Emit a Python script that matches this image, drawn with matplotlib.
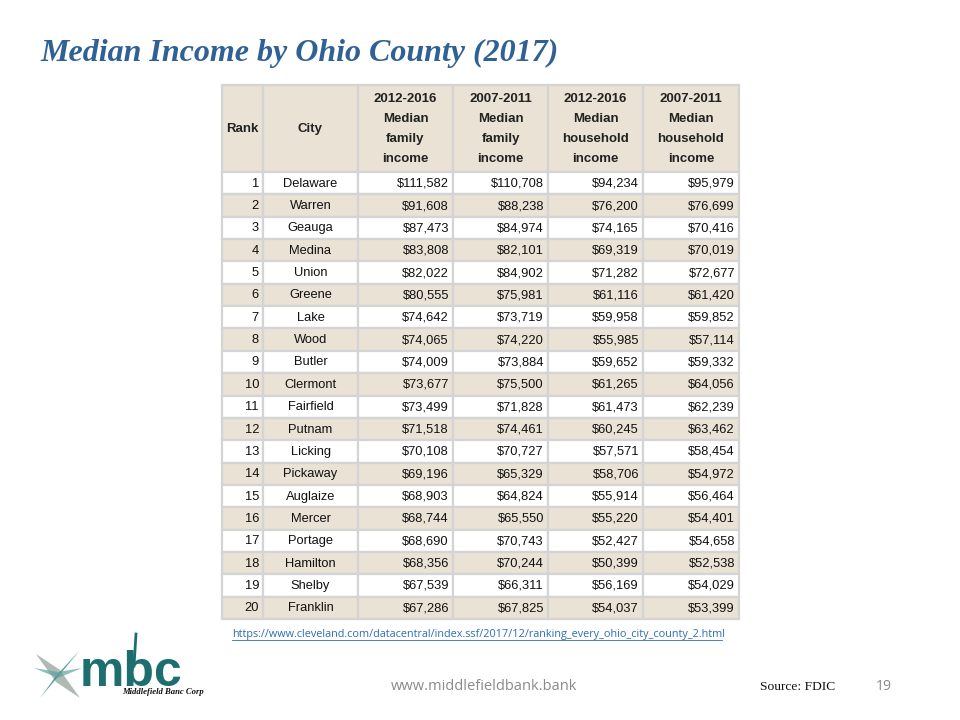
import matplotlib.pyplot as plt
from matplotlib.patches import Rectangle, Polygon

# table data
ranks = list(range(1, 21))
cities = ["Delaware", "Warren", "Geauga", "Medina", "Union", "Greene", "Lake", "Wood",
          "Butler", "Clermont", "Fairfield", "Putnam", "Licking", "Pickaway", "Auglaize",
          "Mercer", "Portage", "Hamilton", "Shelby", "Franklin"]
family_2012_2016 = [111582, 91608, 87473, 83808, 82022, 80555, 74642, 74065, 74009, 73677,
                    73499, 71518, 70108, 69196, 68903, 68744, 68690, 68356, 67539, 67286]
family_2007_2011 = [110708, 88238, 84974, 82101, 84902, 75981, 73719, 74220, 73884, 75500,
                    71828, 74461, 70727, 65329, 64824, 65550, 70743, 70244, 66311, 67825]
household_2012_2016 = [94234, 76200, 74165, 69319, 71282, 61116, 59958, 55985, 59652, 61265,
                       61473, 60245, 57571, 58706, 55914, 55220, 52427, 50399, 56169, 54037]
household_2007_2011 = [95979, 76699, 70416, 70019, 72677, 61420, 59852, 57114, 59332, 64056,
                       62239, 63462, 58454, 54972, 56464, 54401, 54658, 52538, 54029, 53399]
headers = ["Rank", "City",
           "2012-2016\nMedian\nfamily\nincome", "2007-2011\nMedian\nfamily\nincome",
           "2012-2016\nMedian\nhousehold\nincome", "2007-2011\nMedian\nhousehold\nincome"]

title = "Median Income by Ohio County (2017)"
url = "https://www.cleveland.com/datacentral/index.ssf/2017/12/ranking_every_ohio_city_county_2.html"

# layout (pixels)
col_edges = [222, 263, 358, 453, 548, 643, 739]
head_top, head_bot = 85, 172
row_h = 22.35
beige = "#E9E2D5"
grid = "#D4D4D4"

fig = plt.figure(figsize=(9.6, 7.2), dpi=100)
ax = fig.add_axes([0, 0, 1, 1])
ax.set_xlim(0, 960)
ax.set_ylim(720, 0)
ax.axis("off")

ax.text(40, 61, title, fontsize=23, fontweight="bold", fontstyle="italic",
        family="Liberation Serif", color="#2F6195", va="baseline")

# header
for j, h in enumerate(headers):
    x0, x1 = col_edges[j], col_edges[j + 1]
    ax.add_patch(Rectangle((x0, head_top), x1 - x0, head_bot - head_top,
                           facecolor=beige, edgecolor=grid, lw=1.6))
    ax.text((x0 + x1) / 2, (head_top + head_bot) / 2 + 0.5, h, ha="center", va="center",
            fontsize=9.5, fontweight="bold", family="Liberation Sans", color="#222222",
            linespacing=1.9)

# body
for i in range(len(ranks)):
    y0 = head_bot + i * row_h
    yc = y0 + row_h / 2
    fc = "white" if i % 2 == 0 else beige
    vals = [str(ranks[i]), cities[i],
            "${:,}".format(family_2012_2016[i]), "${:,}".format(family_2007_2011[i]),
            "${:,}".format(household_2012_2016[i]), "${:,}".format(household_2007_2011[i])]
    for j, v in enumerate(vals):
        x0, x1 = col_edges[j], col_edges[j + 1]
        ax.add_patch(Rectangle((x0, y0), x1 - x0, row_h, facecolor=fc,
                               edgecolor=grid, lw=1.6))
        if j == 1:
            ax.text((x0 + x1) / 2, yc + 0.5, v, ha="center", va="center", fontsize=9.3,
                    family="Liberation Sans", color="#111111")
        else:
            ax.text(x1 - 4, yc + 0.5, v, ha="right", va="center", fontsize=9.3,
                    family="Liberation Sans", color="#111111")

# source link
ax.text(232, 634, url, fontsize=7.8, family="Open Sans", color="#2E6DB4",
        va="center", ha="left")
ax.plot([232, 722], [640, 640], color="#2E6DB4", lw=0.6)

# footer
ax.text(484, 687, "www.middlefieldbank.bank", fontsize=10.5, family="Open Sans",
        color="#8A8A8A", ha="center", va="center")
ax.text(760, 687, "Source: FDIC", fontsize=9.7, family="Liberation Serif",
        color="#111111", ha="left", va="center")
ax.text(884, 687, "19", fontsize=10, family="Open Sans", color="#8A8A8A",
        ha="center", va="center")

# logo
ax.add_patch(Polygon([(36, 654), (60, 670), (80, 698), (56, 682)],
                     closed=True, facecolor="#9DA9A3", alpha=0.8, edgecolor="none"))
ax.add_patch(Polygon([(80, 650), (62, 672), (40, 698), (56, 676)],
                     closed=True, facecolor="#2E8A86", alpha=0.8, edgecolor="none"))
ax.add_patch(Polygon([(34, 668), (58, 672), (82, 668), (58, 678)],
                     closed=True, facecolor="#5FA39D", alpha=0.7, edgecolor="none"))
ax.text(80, 686, "mbc", fontsize=36, fontweight="bold", family="Liberation Sans",
        color="#1D6E6E", va="baseline", ha="left")
ax.plot([134, 136], [666, 634], color="#1D6E6E", lw=2)
ax.text(122, 692, "Middlefield Banc Corp", fontsize=6.2, fontstyle="italic",
        fontweight="bold", family="Liberation Serif", color="#111111", va="center")

fig.savefig("out.png", dpi=100)
